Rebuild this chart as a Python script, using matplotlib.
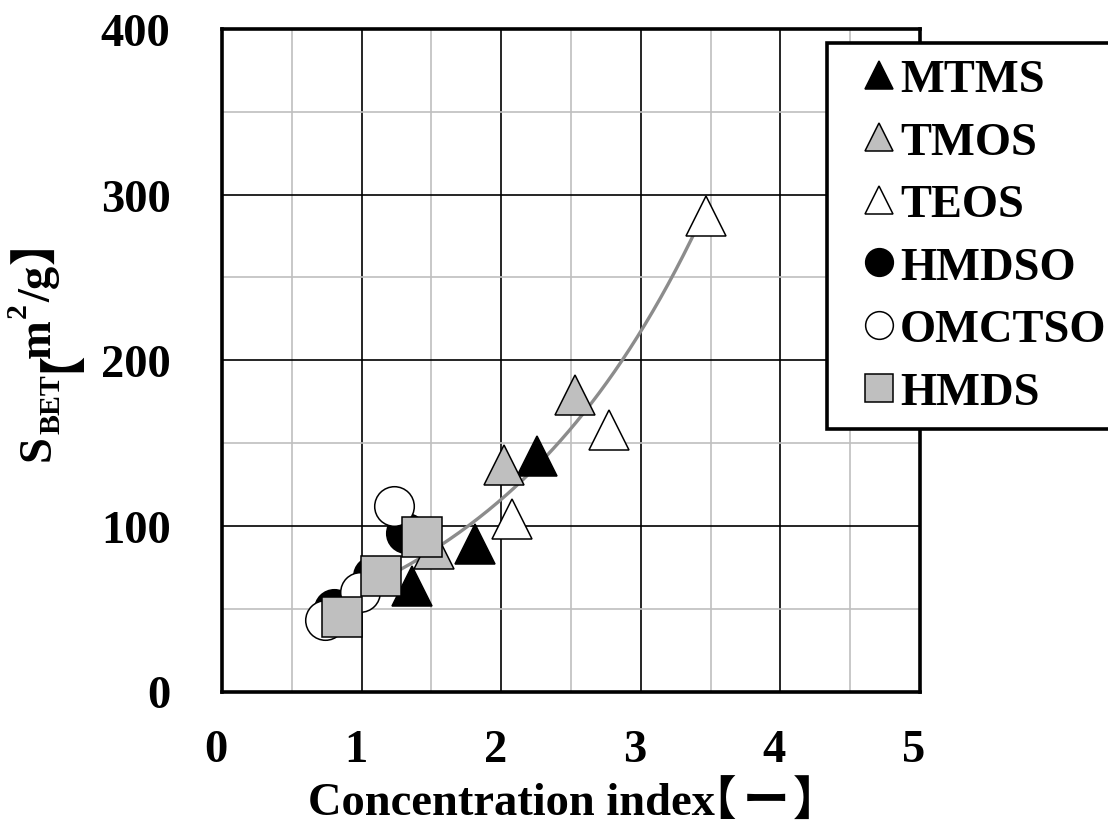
import numpy as np
import matplotlib
matplotlib.use("Agg")
import matplotlib.pyplot as plt
from matplotlib.ticker import MultipleLocator
from matplotlib.transforms import IdentityTransform, ScaledTranslation

SERIF = "Liberation Serif"
CJK = ["Noto Sans CJK JP", "DejaVu Sans"]
FS = 33.5
GRAY = "#BFBFBF"
LINE_GRAY = "#8C8C8C"

# --- data --------------------------------------------------------------------
mtms_x = [1.36, 1.81, 2.26]
mtms_y = [64, 89, 142]
tmos_x = [1.52, 2.02, 2.53]
tmos_y = [86, 137, 179]
teos_x = [2.08, 2.77, 3.47]
teos_y = [104, 158, 287]
hmdso_x = [0.80, 1.08, 1.32]
hmdso_y = [50, 70, 96]
omctso_x = [0.74, 0.99, 1.23]
omctso_y = [43, 60, 112]
hmds_x = [0.86, 1.14, 1.43]
hmds_y = [45, 70, 93]

x_ticks = [0, 1, 2, 3, 4, 5]
y_ticks = [0, 100, 200, 300, 400]

# (label, x, y, marker, face colour)
SERIES = [
    ("MTMS", mtms_x, mtms_y, "^", "black"),
    ("TMOS", tmos_x, tmos_y, "^", GRAY),
    ("TEOS", teos_x, teos_y, "^", "white"),
    ("HMDSO", hmdso_x, hmdso_y, "o", "black"),
    ("OMCTSO", omctso_x, omctso_y, "o", "white"),
    ("HMDS", hmds_x, hmds_y, "s", GRAY),
]


def _place_label(fig, pieces, center, base, vertical=False):
    """Lay text pieces one after another along a (possibly rotated) baseline.
    pieces: (text, size, baseline shift px, gap px before, family)"""
    renderer = fig.canvas.get_renderer()
    arts, pos = [], 0.0
    for txt, size, shift, gap, fam in pieces:
        pos += gap
        t = fig.text(0, 0, txt, transform=IdentityTransform(), fontsize=size,
                     fontweight="bold", family=fam, rotation=90 if vertical else 0,
                     rotation_mode="anchor", ha="left", va="baseline")
        bb = t.get_window_extent(renderer)
        arts.append((t, pos, shift))
        pos += bb.height if vertical else bb.width
    start = center - pos / 2
    for t, p, shift in arts:
        if vertical:
            t.set_position((base - shift, start + p))
        else:
            t.set_position((start + p, base + shift))


fig = plt.figure(figsize=(11.08, 8.37), dpi=100, facecolor="white")
ax = fig.add_axes([222 / 1108, 1 - 692.5 / 837, 698 / 1108, 662.5 / 837])

# exponential trend line through all points (least squares on log y)
all_x = np.concatenate([np.asarray(s[1], float) for s in SERIES])
all_y = np.concatenate([np.asarray(s[2], float) for s in SERIES])
b, ln_a = np.polyfit(all_x, np.log(all_y), 1)
tx = np.linspace(all_x.min(), all_x.max(), 200)
ax.plot(tx, np.exp(ln_a) * np.exp(b * tx), color=LINE_GRAY, lw=2.4, zorder=3)

for i, (name, xs, ys, mk, fc) in enumerate(SERIES):
    ax.plot(xs, ys, linestyle="none", marker=mk, markersize=28.5,
            markerfacecolor=fc, markeredgecolor="black", markeredgewidth=1.1,
            label=name, zorder=4 + i)

ax.set_xlim(0, 5)
ax.set_ylim(0, 400)
ax.set_xticks(x_ticks)
ax.set_yticks(y_ticks)
ax.xaxis.set_minor_locator(MultipleLocator(0.5))
ax.yaxis.set_minor_locator(MultipleLocator(50))
ax.set_axisbelow(True)
ax.grid(which="major", color="black", lw=1.2)
ax.grid(which="minor", color=GRAY, lw=1.2)
ax.tick_params(which="both", length=0)
ax.tick_params(axis="x", pad=27)
ax.tick_params(axis="y", pad=37)
for spine in ax.spines.values():
    spine.set_linewidth(2.6)
for lab in ax.get_xticklabels() + ax.get_yticklabels():
    lab.set_fontfamily(SERIF)
    lab.set_fontweight("bold")
    lab.set_fontsize(FS)
for lab in ax.get_xticklabels():
    lab.set_transform(lab.get_transform() + ScaledTranslation(-0.06, 0, fig.dpi_scale_trans))

leg = ax.legend(loc="upper left", bbox_to_anchor=(827 / 1108, 1 - 44 / 837),
                bbox_transform=fig.transFigure, borderaxespad=0,
                prop={"family": SERIF, "weight": "bold", "size": FS},
                markerscale=0.7, handlelength=1.58, handletextpad=-0.34,
                borderpad=0.33, labelspacing=0.43, fancybox=False,
                framealpha=1, edgecolor="black")
leg.get_frame().set_linewidth(2.6)

# axis titles (CJK glyphs carry em-box whitespace, hence the negative gaps)
_place_label(fig, [
    ("Concentration index", FS, 0, 0, SERIF),
    ("【", FS, 0, -26, CJK),
    ("ー", FS, 0, 7, CJK),
    ("】", FS, 0, 4, CJK),
], center=574, base=22)

_place_label(fig, [
    ("S", FS, 0, 0, SERIF),
    ("BET", 21.5, -9, 1, SERIF),
    ("【", FS, 0, 2, CJK),
    ("m", FS, 0, -32, SERIF),
    ("2", 21.5, 24, 1, SERIF),
    ("/g", FS, 0, 1, SERIF),
    ("】", FS, 0, 2, CJK),
], center=498, base=50, vertical=True)

fig.savefig("out.png", dpi=100, facecolor="white")
